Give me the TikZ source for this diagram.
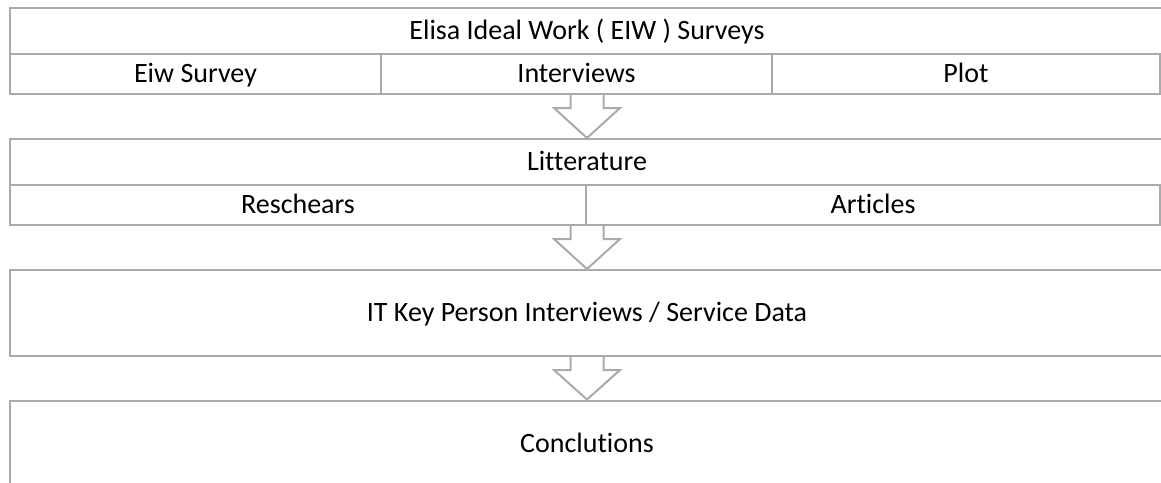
\documentclass[tikz,border=0pt]{standalone}
\usepackage{fontspec}
\setmainfont{Carlito}[Ligatures={NoCommon}]
\usetikzlibrary{calc}
\definecolor{frame}{RGB}{170,170,170}
\begin{document}
\begin{tikzpicture}[x=0.5pt,y=-0.5pt,
  cell/.style={draw=frame,line width=1pt,rectangle,inner sep=0pt,
    text height=10pt,text depth=1.5pt,font=\fontsize{14}{17}\selectfont},
  arrowline/.style={draw=frame,line width=1pt,line join=miter}]
\useasboundingbox (0,0) rectangle (1161,482);

% block arrow from a box bottom (#1) down to the next box top (#2)
\newcommand\flowarrow[2]{%
  \draw[arrowline] ($(#1)+(-16.5,0)$) -- ($(#1)+(-16.5,13)$) -- ($(#1)+(-33,13)$)
    -- (#2) -- ($(#1)+(33,13)$) -- ($(#1)+(16.5,13)$) -- ($(#1)+(16.5,0)$);}

% EIW surveys
\node[cell,minimum width=577pt,minimum height=23pt] (eiw) at (587,31) {Elisa Ideal Work ( EIW ) Surveys};
\node[cell,minimum width=185.5pt,minimum height=20pt] (survey) at (195.5,74) {Eiw Survey};
\node[cell,minimum width=195.5pt,minimum height=20pt] (interv) at (576.5,74) {Interviews};
\node[cell,minimum width=194pt,minimum height=20pt] (plot) at (966,74) {Plot};

% literature
\node[cell,minimum width=577pt,minimum height=23pt] (lit) at (587,162) {Litterature};
\node[cell,minimum width=288pt,minimum height=20pt] (resch) at (298,205) {Reschears};
\node[cell,minimum width=287pt,minimum height=20pt] (art) at (873,205) {Articles};

% key persons and conclusions
\node[cell,minimum width=577pt,minimum height=43pt] (itkey) at (587,313) {IT Key Person Interviews / Service Data};
\node[cell,minimum width=577pt,minimum height=43pt] (concl) at (587,443.5) {Conclutions};

\coordinate (a1s) at (interv.south -| resch.east);
\coordinate (a1e) at (lit.north -| resch.east);
\coordinate (a2s) at (resch.east |- resch.south);
\coordinate (a2e) at (itkey.north -| resch.east);
\coordinate (a3s) at (itkey.south -| resch.east);
\coordinate (a3e) at (concl.north -| resch.east);

\flowarrow{a1s}{a1e}
\flowarrow{a2s}{a2e}
\flowarrow{a3s}{a3e}
\end{tikzpicture}
\end{document}
